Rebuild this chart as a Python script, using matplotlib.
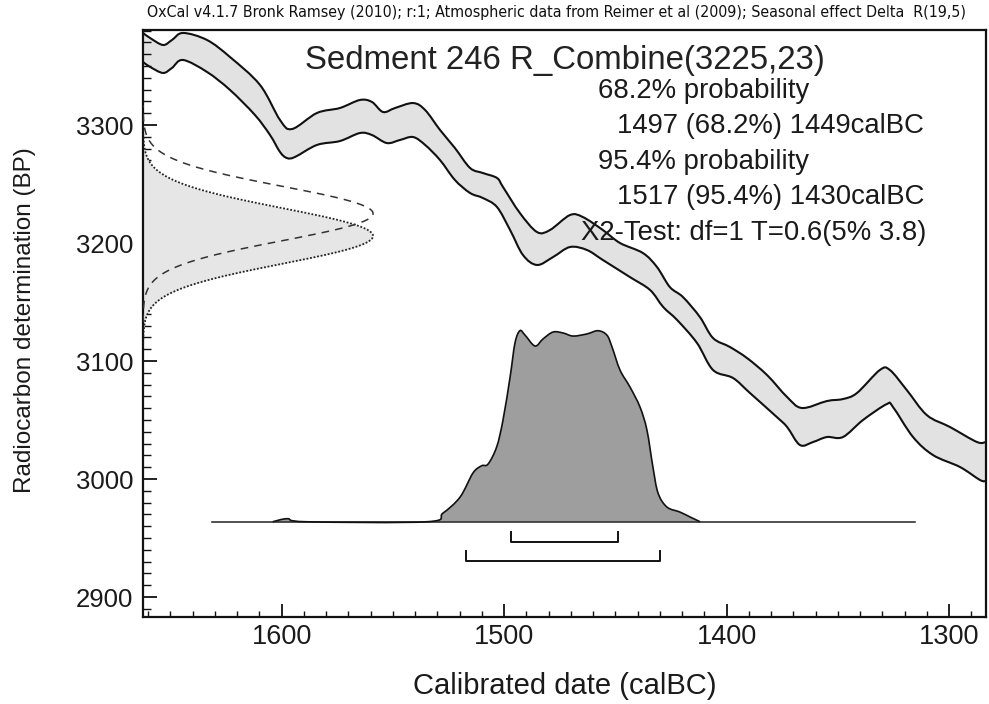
import numpy as np
import matplotlib
matplotlib.use("Agg")
import matplotlib.pyplot as plt
from matplotlib.ticker import MultipleLocator
from matplotlib.path import Path
from matplotlib.patches import PathPatch
from matplotlib import font_manager as fm

# ---------------- data ----------------
# calibration curve, upper edge (cal BC, BP)
cal_upper_year = [1662.3, 1659.1, 1653.3, 1649.3, 1644.3, 1633.5, 1623.2, 1609.7, 1600.7, 1595.3,
                  1584.1, 1573.8, 1564.8, 1559.4, 1554.4, 1549.0, 1540.9, 1535.5, 1528.8, 1522.1,
                  1515.3, 1509.5, 1503.2, 1500.5, 1492.9, 1485.2, 1479.4, 1470.4, 1464.6, 1455.6,
                  1447.9, 1437.6, 1431.3, 1425.5, 1419.6, 1412.0, 1406.1, 1398.5, 1390.8, 1381.8,
                  1372.8, 1366.1, 1354.9, 1347.7, 1341.4, 1331.1, 1326.6, 1319.0, 1310.0, 1299.6,
                  1287.5, 1283.4]
cal_upper_bp = [3378.0, 3373.7, 3367.8, 3372.0, 3378.0, 3372.0, 3357.6, 3333.9, 3304.2, 3296.6,
                3310.2, 3314.4, 3321.2, 3319.5, 3311.0, 3314.4, 3318.6, 3312.7, 3295.8, 3280.5,
                3263.6, 3259.3, 3255.1, 3247.5, 3225.4, 3209.3, 3211.0, 3223.7, 3222.0, 3211.0,
                3200.0, 3191.5, 3179.7, 3162.7, 3154.2, 3137.3, 3119.5, 3111.9, 3102.5, 3088.1,
                3069.5, 3060.2, 3066.1, 3067.8, 3072.9, 3092.4, 3092.4, 3075.4, 3054.2, 3044.1,
                3031.4, 3031.4]
# calibration curve, lower edge
cal_lower_year = [1662.3, 1659.1, 1653.3, 1649.3, 1644.3, 1633.5, 1623.2, 1612.0, 1605.2, 1600.7,
                  1597.6, 1594.0, 1584.1, 1573.8, 1564.8, 1559.4, 1552.7, 1546.8, 1540.9, 1535.5,
                  1528.8, 1522.1, 1515.3, 1509.5, 1503.2, 1497.3, 1491.5, 1485.2, 1478.0, 1470.4,
                  1462.8, 1455.6, 1443.5, 1434.4, 1428.5, 1422.2, 1413.3, 1406.1, 1397.1, 1389.5,
                  1377.4, 1372.8, 1367.0, 1361.1, 1354.9, 1347.7, 1338.7, 1327.9, 1325.2, 1316.2,
                  1307.2, 1295.1, 1286.1, 1283.4]
cal_lower_bp = [3353.4, 3349.2, 3344.1, 3348.3, 3355.1, 3344.9, 3329.7, 3308.5, 3291.5, 3277.1,
                3272.0, 3272.9, 3283.1, 3286.4, 3293.2, 3291.5, 3284.7, 3287.3, 3289.8, 3283.1,
                3270.3, 3253.4, 3242.4, 3238.1, 3230.5, 3211.0, 3189.8, 3181.4, 3188.1, 3196.6,
                3194.1, 3185.6, 3171.2, 3160.2, 3145.8, 3134.7, 3115.3, 3092.4, 3085.6, 3072.9,
                3052.5, 3044.1, 3028.8, 3031.4, 3035.6, 3035.6, 3050.0, 3063.6, 3061.0, 3035.6,
                3020.3, 3010.2, 2999.2, 2998.3]

# radiocarbon determination
r_date, r_err = 3225, 23
delta_r, delta_r_err = 19, 5

# calibrated probability distribution (cal BC, relative probability)
dist_year = [1604.0, 1597.4, 1589.0,
             1534.8, 1527.5, 1519.8, 1514.0, 1510.1, 1507.2, 1503.3, 1500.5, 1497.3, 1495.1,
             1492.9, 1490.6, 1486.1, 1482.5, 1478.0, 1473.5, 1469.0, 1462.8, 1457.8, 1453.8,
             1451.5, 1447.9, 1443.4, 1438.9, 1435.8, 1433.1, 1430.8, 1426.8, 1421.0, 1416.4,
             1411.9]
dist_prob = [0.0, 0.016, 0.0,
             0.0, 0.045, 0.129, 0.255, 0.293, 0.302, 0.393, 0.532, 0.758, 0.936,
             1.0, 0.977, 0.92, 0.957, 0.993, 0.988, 0.972, 0.983, 1.0, 0.977,
             0.915, 0.794, 0.705, 0.6, 0.48, 0.286, 0.15, 0.077, 0.051, 0.025,
             0.0]
dist_span = [1631.2, 1315.3]

# highest probability ranges
range68 = [1497, 1449]
range95 = [1517, 1430]

x_ticks = [1600, 1500, 1400, 1300]
y_ticks = [2900, 3000, 3100, 3200, 3300]

header = ("OxCal v4.1.7 Bronk Ramsey (2010); r:1; Atmospheric data from Reimer et al (2009); "
          "Seasonal effect Delta  R(19,5)")
title = "Sedment 246 R_Combine(3225,23)"
info_lines = ["68.2% probability", "1497 (68.2%) 1449calBC",
              "95.4% probability", "1517 (95.4%) 1430calBC",
              "X2-Test: df=1 T=0.6(5% 3.8)"]

# ---------------- fonts ----------------
W, H = 989, 704
REG = ["Liberation Sans", "DejaVu Sans"]


def narrow_props(size):
    names = {f.name for f in fm.fontManager.ttflist}
    for pref in ("Liberation Sans Narrow", "Arial Narrow", "Nimbus Sans Narrow"):
        if pref in names:
            return fm.FontProperties(family=pref, size=size), True
    for fam in ("Noto Sans", "Open Sans", "Roboto", "DejaVu Sans"):
        for f in fm.fontManager.ttflist:
            if (f.name == fam and f.style == "normal" and f.weight in (400, "normal", "regular")
                    and f.stretch in ("condensed", "semi-condensed", 500 - 125, 500 - 250)):
                return fm.FontProperties(fname=f.fname, size=size), True
            if (f.name == fam and f.style == "normal" and "Condensed" in f.fname
                    and "Bold" not in f.fname and "Light" not in f.fname
                    and "Semi" not in f.fname and "Extra" not in f.fname
                    and "Medium" not in f.fname and "Black" not in f.fname
                    and "Thin" not in f.fname and "Italic" not in f.fname):
                return fm.FontProperties(fname=f.fname, size=size), True
    return fm.FontProperties(family="Liberation Sans", size=size), False


def fx(px):
    return px / W


def fy(py):
    return 1 - py / H


def smooth_path(xs, ys):
    pts = np.column_stack([xs, ys]).astype(float)
    n = len(pts)
    verts = [pts[0]]
    codes = [Path.MOVETO]
    for i in range(n - 1):
        p0 = pts[i - 1] if i > 0 else pts[i]
        p1 = pts[i]
        p2 = pts[i + 1]
        p3 = pts[i + 2] if i + 2 < n else pts[i + 1]
        verts += [p1 + (p2 - p0) / 6.0, p2 - (p3 - p1) / 6.0, p2]
        codes += [Path.CURVE4] * 3
    return verts, codes


fig = plt.figure(figsize=(W / 100, H / 100), dpi=100)
ax = fig.add_axes([fx(143), fy(617), fx(986) - fx(143), fy(30) - fy(617)])
ax.set_xlim(1662.3, 1283.4)
ax.set_ylim(2883.1, 3380.5)

# calibration band
uv, uc = smooth_path(cal_upper_year, cal_upper_bp)
lv, lc = smooth_path(cal_lower_year[::-1], cal_lower_bp[::-1])
band = Path(uv + [lv[0]] + lv[1:] + [uv[0]],
            uc + [Path.LINETO] + lc[1:] + [Path.CLOSEPOLY])
ax.add_patch(PathPatch(band, facecolor="#e2e2e2", edgecolor="none", zorder=1))
ax.add_patch(PathPatch(Path(uv, uc), facecolor="none", edgecolor="#111111", lw=1.5, zorder=3))
ax.add_patch(PathPatch(Path(lv, lc), facecolor="none", edgecolor="#111111", lw=1.5, zorder=3))

# radiocarbon gaussians on the y axis
xleft = ax.get_xlim()[0]
amp = 103.4
mean_c = r_date - delta_r
sd_c = np.hypot(r_err, delta_r_err)
bp_c = np.linspace(mean_c - 4 * sd_c, mean_c + 4 * sd_c, 300)
gx_c = xleft - amp * np.exp(-0.5 * ((bp_c - mean_c) / sd_c) ** 2)
ax.fill_betweenx(bp_c, xleft, gx_c, color="#e6e6e6", lw=0, zorder=2)
ax.plot(gx_c, bp_c, color="#222222", ls=(0, (1, 1)), lw=1.3, zorder=4)

bp_r = np.linspace(r_date - 4 * r_err, r_date + 4 * r_err, 300)
gx_r = xleft - amp * np.exp(-0.5 * ((bp_r - r_date) / r_err) ** 2)
ax.plot(gx_r, bp_r, color="#333333", ls=(0, (5, 4)), lw=1.1, zorder=4)

# calibrated distribution
base = 2963.8
scale = 161.9
dy = base + scale * np.asarray(dist_prob)
dv, dc = smooth_path(dist_year, dy)
dist_fill = Path(dv + [(dist_year[-1], base), (dist_year[0], base), dv[0]],
                 dc + [Path.LINETO, Path.LINETO, Path.CLOSEPOLY])
ax.plot(dist_span, [base, base], color="#222222", lw=1.1, zorder=3)
ax.add_patch(PathPatch(dist_fill, facecolor="#9e9e9e", edgecolor="none", zorder=2))
ax.add_patch(PathPatch(Path(dv, dc), facecolor="none", edgecolor="#111111", lw=1.2, zorder=3))

# range brackets
for rng, off in ((range68, 17.0), (range95, 33.0)):
    yb = base - off
    ax.plot([rng[0], rng[0], rng[1], rng[1]], [yb + 8.5, yb, yb, yb + 8.5],
            color="#111111", lw=1.4, zorder=3)

# axes / ticks
ax.set_xticks(x_ticks, [str(v) for v in x_ticks], fontsize=19.5, fontfamily=REG,
              color="#1a1a1a")
ax.set_yticks(y_ticks, [str(v) for v in y_ticks], fontsize=18.5, fontfamily=REG,
              color="#1a1a1a")
ax.xaxis.set_minor_locator(MultipleLocator(10))
ax.yaxis.set_minor_locator(MultipleLocator(10))
ax.tick_params(which="both", direction="in", top=False, right=False, color="#111111")
ax.tick_params(axis="x", which="major", length=9.5, width=1.3, pad=5)
ax.tick_params(axis="x", which="minor", length=4.5, width=1.0)
ax.tick_params(axis="y", which="major", length=10, width=1.3, pad=7)
ax.tick_params(axis="y", which="minor", length=6, width=1.0)
for sp in ax.spines.values():
    sp.set_linewidth(1.6)
    sp.set_color("#111111")

# texts
hd_fp, hn = narrow_props(11.4)
if not hn:
    hd_fp = fm.FontProperties(family="Liberation Sans", size=11.5)
fig.text(fx(147), fy(13), header, fontproperties=hd_fp, ha="left", va="center",
         color="#111111")
fig.text(fx(565), fy(60), title, fontsize=23.8, fontfamily=REG, ha="center", va="center",
         color="#222222")
info_pos = [(598, 91), (617, 126), (598, 162), (617, 197), (581, 233)]
for (px, py), s in zip(info_pos, info_lines):
    fig.text(fx(px), fy(py), s, fontsize=19.8, fontfamily=REG, ha="left", va="center",
             color="#1a1a1a")

fig.text(fx(25), fy(320), "Radiocarbon determination (BP)", rotation=90, fontsize=17.5,
         fontfamily=REG, ha="center", va="center", color="#1a1a1a")
fig.text(fx(565), fy(686), "Calibrated date (calBC)", fontsize=21, fontfamily=REG,
         ha="center", va="center", color="#1a1a1a")

fig.savefig("out.png", dpi=100)
